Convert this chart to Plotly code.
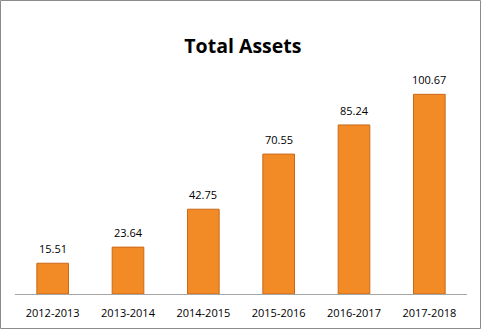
import plotly.graph_objects as go

categories = ["2012-2013", "2013-2014", "2014-2015", "2015-2016", "2016-2017", "2017-2018"]
values = [15.51, 23.64, 42.75, 70.55, 85.24, 100.67]
labels = ["15.51", "23.64", "42.75", "70.55", "85.24", "100.67"]

W, H = 481, 329
ml, mr, mt, mb = 15, 14, 56, 35
pw, ph = W - ml - mr, H - mt - mb
FONT = "Open Sans, Liberation Sans, sans-serif"

fig = go.Figure()
fig.add_trace(go.Bar(
    x=categories, y=values,
    marker=dict(color="#F28B26", line=dict(color="#C9691A", width=1)),
    width=0.42,
))

annotations = [
    dict(x=c, y=v, text=t, showarrow=False, xref="x", yref="y",
         yanchor="bottom", yshift=5,
         font=dict(family=FONT, size=11, color="#000000"))
    for c, v, t in zip(categories, values, labels)
]

def px_x(p):
    return (p - ml) / pw

def px_y(p):
    return 1 - (p - mt) / ph

fig.update_layout(
    width=W, height=H,
    margin=dict(l=ml, r=mr, t=mt, b=mb, autoexpand=False),
    paper_bgcolor="white", plot_bgcolor="white",
    title=dict(text="<b>Total Assets</b>", x=0.505, xanchor="center", y=1 - 46 / H, yanchor="middle",
               font=dict(family=FONT, size=19.5, color="#000000")),
    showlegend=False,
    annotations=annotations,
    xaxis=dict(showline=True, linecolor="#A6A6A6", linewidth=1, ticks="",
               ticklabelstandoff=9, automargin=False,
               tickfont=dict(family=FONT, size=11, color="#000000")),
    yaxis=dict(range=[0, 120], visible=False, showgrid=False, automargin=False),
    shapes=[dict(type="rect", xref="paper", yref="paper",
                 x0=px_x(0.5), x1=px_x(W - 0.5), y0=px_y(H - 0.5), y1=px_y(0.5),
                 line=dict(color="#8C8C8C", width=1))],
)

fig.write_html("out.html")
